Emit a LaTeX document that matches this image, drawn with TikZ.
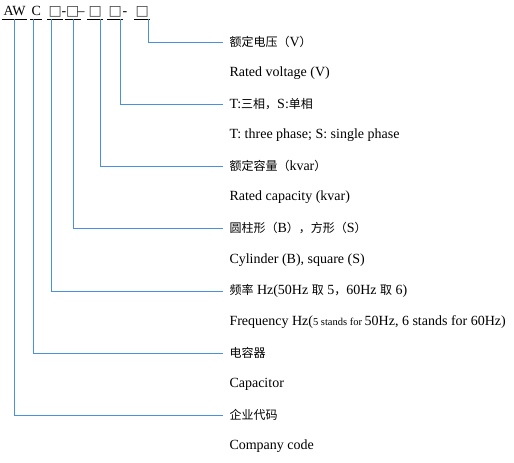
\documentclass[tikz,border=0pt]{standalone}
\usepackage{fontspec}
\setmainfont{Liberation Serif}
\newfontfamily\cjk{Noto Sans CJK SC}
\newfontfamily\symb{DejaVu Sans}
\newcommand{\zh}[1]{{\cjk\fontsize{12}{14}\selectfont #1}}
\usetikzlibrary{positioning}
\definecolor{leadblue}{RGB}{74,144,222}

\begin{document}
\begin{tikzpicture}[x=1pt,y=-1pt,line width=1pt,
  code/.style={anchor=base west,inner xsep=1pt,inner ysep=0pt,text depth=2.5pt,font=\fontsize{14}{16}\selectfont},
  slot/.style={code,inner xsep=1pt,text=black!75,font=\symb\fontsize{14}{16}\selectfont},
  uline/.style={line width=.9pt},
  lead/.style={leadblue,line width=.8pt},
  zhlabel/.style={anchor=west,inner xsep=6pt,inner ysep=1pt,font=\fontsize{14}{16}\selectfont},
  enlabel/.style={zhlabel}]
\path[use as bounding box] (0,0) rectangle (514,463);
% model code
\node[code] (pAW) at (2,16) {AW};
\node[code] (pC) at (30,16) {C};
\node[slot] (s1) at (47,16) {□};
\node[code,inner xsep=0pt] (d1) at (61,16) {-};
\node[slot] (s2) at (64.5,16) {□};
\node[code,inner xsep=0pt] (d2) at (77,16) {–};
\node[slot] (s3) at (87,16) {□};
\node[slot] (s4) at (107,16) {□};
\node[code,inner xsep=0pt] (d3) at (122,16) {-};
\node[slot] (s5) at (134,16) {□};
\foreach \n in {pAW,pC,s1,s2,s3,s4,s5}
  \draw[uline] (\n.south west) -- (\n.south east);
\coordinate (tAW) at (14,18.5);
\coordinate (tC) at (33,18.5);
\coordinate (t1) at (51,18.5);
\coordinate (t2) at (73,18.5);
\coordinate (t3) at (100,18.5);
\coordinate (t4) at (120,18.5);
\coordinate (t5) at (148,18.5);
% labels
\node[zhlabel] (zh1) at (223,42) {\zh{额定电压（}V\zh{）}};
\node[enlabel] (en1) at (223,73) {Rated voltage (V)};
\node[zhlabel] (zh2) at (223,104) {T:\zh{三相，}S:\zh{单相}};
\node[enlabel] (en2) at (223,135) {T: three phase; S: single phase};
\node[zhlabel] (zh3) at (223,166) {\zh{额定容量（}kvar\zh{）}};
\node[enlabel] (en3) at (223,197) {Rated capacity (kvar)};
\node[zhlabel] (zh4) at (223,228.5) {\zh{圆柱形（}B\zh{），方形（}S\zh{）}};
\node[enlabel] (en4) at (223,260) {Cylinder (B), square (S)};
\node[zhlabel] (zh5) at (223,291) {\zh{频率} Hz(50Hz \zh{取} 5\zh{，}60Hz \zh{取} 6)};
\node[enlabel] (en5) at (223,322) {Frequency Hz({\fontsize{10.5}{12}\selectfont 5 stands for }50Hz, 6 stands for 60Hz)};
\node[zhlabel] (zh6) at (223,353) {\zh{电容器}};
\node[enlabel] (en6) at (223,384) {Capacitor};
\node[zhlabel] (zh7) at (223,415) {\zh{企业代码}};
\node[enlabel] (en7) at (223,446) {Company code};
% leads
\draw[lead] (t5) |- (zh1.west);
\draw[lead] (t4) |- (zh2.west);
\draw[lead] (t3) |- (zh3.west);
\draw[lead] (t2) |- (zh4.west);
\draw[lead] (t1) |- (zh5.west);
\draw[lead] (tC) |- (zh6.west);
\draw[lead] (tAW) |- (zh7.west);
\end{tikzpicture}
\end{document}
